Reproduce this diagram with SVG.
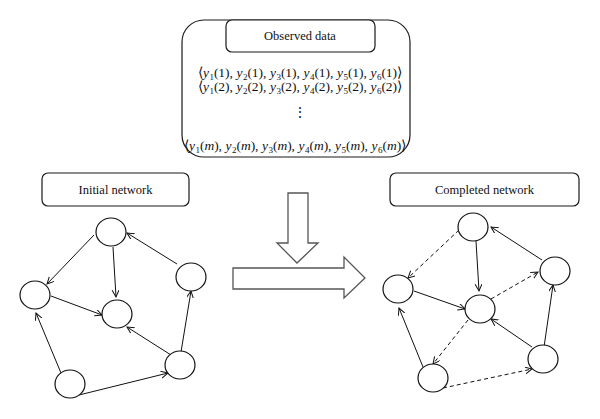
<svg xmlns="http://www.w3.org/2000/svg" width="600" height="419" viewBox="0 0 600 419">
<defs>
<style>
.box{fill:#fff;stroke:#1a1a1a;stroke-width:1.2}
.lbl{font-family:"Liberation Serif",serif;font-size:12.5px;fill:#111;text-anchor:middle}
.math{font-family:"Liberation Serif",serif;font-size:13.5px;fill:#111;text-anchor:middle}
.node{fill:#fff;stroke:#111;stroke-width:1.2}
.e{stroke:#111;stroke-width:1;fill:none;marker-end:url(#ah)}
.d{stroke-dasharray:4 3}
.big{fill:#fff;stroke:#555;stroke-width:1.3}
</style>
<marker id="ah" markerUnits="userSpaceOnUse" markerWidth="10" markerHeight="10" refX="7" refY="3.5" orient="auto">
<path d="M0,0 L7,3.5 L0,7" fill="none" stroke="#111" stroke-width="1"/>
</marker>
</defs>

<g id="observed">
<rect class="box" x="182" y="20" width="228" height="137" rx="22" ry="22"/>
<rect class="box" x="226" y="20" width="149" height="32" rx="6" ry="6"/>
<text class="lbl" x="300" y="40">Observed data</text>
<text class="math" x="300" y="77">⟨<tspan font-style="italic">y</tspan><tspan font-size="9" dx="0.5" dy="3">1</tspan><tspan dy="-3">(1), </tspan><tspan font-style="italic">y</tspan><tspan font-size="9" dx="0.5" dy="3">2</tspan><tspan dy="-3">(1), </tspan><tspan font-style="italic">y</tspan><tspan font-size="9" dx="0.5" dy="3">3</tspan><tspan dy="-3">(1), </tspan><tspan font-style="italic">y</tspan><tspan font-size="9" dx="0.5" dy="3">4</tspan><tspan dy="-3">(1), </tspan><tspan font-style="italic">y</tspan><tspan font-size="9" dx="0.5" dy="3">5</tspan><tspan dy="-3">(1), </tspan><tspan font-style="italic">y</tspan><tspan font-size="9" dx="0.5" dy="3">6</tspan><tspan dy="-3">(1)⟩</tspan></text>
<text class="math" x="300" y="91">⟨<tspan font-style="italic">y</tspan><tspan font-size="9" dx="0.5" dy="3">1</tspan><tspan dy="-3">(2), </tspan><tspan font-style="italic">y</tspan><tspan font-size="9" dx="0.5" dy="3">2</tspan><tspan dy="-3">(2), </tspan><tspan font-style="italic">y</tspan><tspan font-size="9" dx="0.5" dy="3">3</tspan><tspan dy="-3">(2), </tspan><tspan font-style="italic">y</tspan><tspan font-size="9" dx="0.5" dy="3">4</tspan><tspan dy="-3">(2), </tspan><tspan font-style="italic">y</tspan><tspan font-size="9" dx="0.5" dy="3">5</tspan><tspan dy="-3">(2), </tspan><tspan font-style="italic">y</tspan><tspan font-size="9" dx="0.5" dy="3">6</tspan><tspan dy="-3">(2)⟩</tspan></text>
<text class="math" x="300" y="117">⋮</text>
<text class="math" x="295" y="150">⟨<tspan font-style="italic">y</tspan><tspan font-size="9" dx="0.5" dy="3">1</tspan><tspan dy="-3">(</tspan><tspan font-style="italic">m</tspan><tspan>), </tspan><tspan font-style="italic">y</tspan><tspan font-size="9" dx="0.5" dy="3">2</tspan><tspan dy="-3">(</tspan><tspan font-style="italic">m</tspan><tspan>), </tspan><tspan font-style="italic">y</tspan><tspan font-size="9" dx="0.5" dy="3">3</tspan><tspan dy="-3">(</tspan><tspan font-style="italic">m</tspan><tspan>), </tspan><tspan font-style="italic">y</tspan><tspan font-size="9" dx="0.5" dy="3">4</tspan><tspan dy="-3">(</tspan><tspan font-style="italic">m</tspan><tspan>), </tspan><tspan font-style="italic">y</tspan><tspan font-size="9" dx="0.5" dy="3">5</tspan><tspan dy="-3">(</tspan><tspan font-style="italic">m</tspan><tspan>), </tspan><tspan font-style="italic">y</tspan><tspan font-size="9" dx="0.5" dy="3">6</tspan><tspan dy="-3">(</tspan><tspan font-style="italic">m</tspan><tspan>)⟩</tspan></text>
</g>

<g id="initial-label">
<rect class="box" x="42" y="173" width="147" height="33" rx="6" ry="6"/>
<text class="lbl" x="115.5" y="194">Initial network</text>
</g>
<g id="completed-label">
<rect class="box" x="390" y="173" width="189" height="33" rx="6" ry="6"/>
<text class="lbl" x="484.5" y="194">Completed network</text>
</g>

<g id="big-arrows">
<path class="big" d="M288,193 L308,193 L308,243 L318,243 L297,263 L277,243 L288,243 Z"/>
<path class="big" d="M233,268 L344,268 L344,257 L365,278 L344,298 L344,289 L233,289 Z"/>
</g>

<g id="connectors">
<!-- initial -->
<line class="e" x1="94" y1="235" x2="47" y2="284"/>
<line class="e" x1="113" y1="247" x2="116" y2="297"/>
<line class="e" x1="51" y1="296" x2="102" y2="315"/>
<line class="e" x1="177" y1="264" x2="127" y2="233"/>
<line class="e" x1="181" y1="352" x2="191" y2="291"/>
<line class="e" x1="171" y1="355" x2="127" y2="327"/>
<line class="e" x1="61" y1="373" x2="36" y2="313"/>
<line class="e" x1="79" y1="395" x2="168" y2="373"/>
<!-- completed -->
<line class="e d" x1="459" y1="230" x2="408" y2="278"/>
<line class="e" x1="476" y1="241" x2="479" y2="291"/>
<line class="e" x1="414" y1="291" x2="465" y2="309"/>
<line class="e" x1="542" y1="260" x2="491" y2="227"/>
<line class="e d" x1="491" y1="299" x2="538" y2="272"/>
<line class="e" x1="544" y1="347" x2="553" y2="285"/>
<line class="e" x1="532" y1="347" x2="491" y2="319"/>
<line class="e d" x1="468" y1="320" x2="433" y2="364"/>
<line class="e" x1="423" y1="367" x2="399" y2="308"/>
<line class="e d" x1="443" y1="388" x2="532" y2="369"/>
</g>

<g id="i-top"><ellipse class="node" cx="111" cy="232" rx="15" ry="14"/></g>
<g id="i-left"><ellipse class="node" cx="35" cy="295" rx="15" ry="14"/></g>
<g id="i-center"><ellipse class="node" cx="117" cy="314" rx="15" ry="14"/></g>
<g id="i-right"><ellipse class="node" cx="191" cy="277" rx="15" ry="14"/></g>
<g id="i-bottomright"><ellipse class="node" cx="180" cy="365" rx="15" ry="14"/></g>
<g id="i-bottom"><ellipse class="node" cx="70" cy="384" rx="15" ry="14"/></g>

<g id="c-top"><ellipse class="node" cx="473" cy="227" rx="15" ry="14"/></g>
<g id="c-left"><ellipse class="node" cx="398" cy="289" rx="15" ry="14"/></g>
<g id="c-center"><ellipse class="node" cx="480" cy="309" rx="15" ry="14"/></g>
<g id="c-right"><ellipse class="node" cx="555" cy="271" rx="15" ry="14"/></g>
<g id="c-bottomright"><ellipse class="node" cx="543" cy="359" rx="15" ry="14"/></g>
<g id="c-bottom"><ellipse class="node" cx="433" cy="378" rx="15" ry="14"/></g>
</svg>
